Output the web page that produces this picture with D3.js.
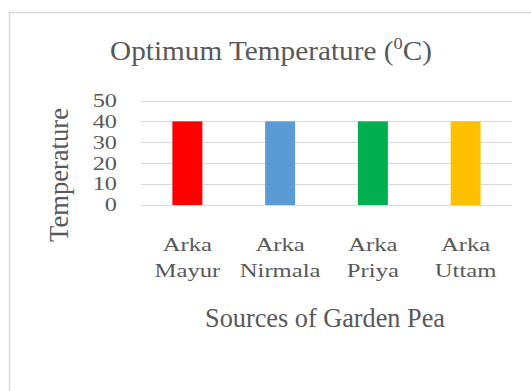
<!DOCTYPE html>
<html>
<head>
<meta charset="utf-8">
<script src="https://cdn.jsdelivr.net/npm/d3@7"></script>
<style>
  body { margin: 0; background: #fff; }
</style>
</head>
<body>
<div id="chart"></div>
<script>
// Data
var categories = [["Arka", "Mayur"], ["Arka", "Nirmala"], ["Arka", "Priya"], ["Arka", "Uttam"]];
var values = [40, 40, 40, 40];
var barColors = ["#ff0000", "#5b9bd5", "#00b050", "#ffc000"];
var yTicks = [0, 10, 20, 30, 40, 50];

var attrs = {
  svgWidth: 531,
  svgHeight: 391,
  font: '"Liberation Serif"',
  textFill: '#595959',
  gridColor: '#d9d9d9'
};

var svg = d3.select('#chart').append('svg')
  .attr('width', attrs.svgWidth)
  .attr('height', attrs.svgHeight);

// stretch a text horizontally (in its own frame) to a target length
function fitText(text, target) {
  var w = text.node().getBBox().width;
  text.attr('transform', text.attr('transform') + ' scale(' + (target / w) + ',1)');
}

// chart border (runs off the right/bottom edge)
svg.append('rect')
  .attr('x', 9.5).attr('y', 12.5)
  .attr('width', 540).attr('height', 400)
  .attr('fill', '#fff')
  .attr('stroke', attrs.gridColor)
  .attr('stroke-width', 1.5);

var x = d3.scaleBand()
  .domain(d3.range(categories.length))
  .range([141, 512])
  .paddingInner(0.677)
  .paddingOuter(0.3385);

var y = d3.scaleLinear().domain([0, 50]).range([205, 100.5]);

// gridlines
svg.append('g').selectAll('line')
  .data(yTicks)
  .enter().append('line')
  .attr('x1', 141).attr('x2', 512)
  .attr('y1', d => Math.round(y(d)) + 0.5)
  .attr('y2', d => Math.round(y(d)) + 0.5)
  .attr('stroke', attrs.gridColor)
  .attr('stroke-width', 1);

// bars
svg.append('g').selectAll('rect')
  .data(values)
  .enter().append('rect')
  .attr('x', (d, i) => x(i))
  .attr('y', d => y(d))
  .attr('width', x.bandwidth())
  .attr('height', d => y(0) - y(d))
  .attr('fill', (d, i) => barColors[i]);

// y tick labels
svg.append('g').selectAll('text')
  .data(yTicks)
  .enter().append('text')
  .attr('transform', d => 'translate(117,' + y(d) + ') scale(1.35,1)')
  .attr('dy', '0.35em')
  .attr('text-anchor', 'end')
  .style('font-family', attrs.font)
  .style('font-size', '18px')
  .attr('fill', attrs.textFill)
  .text(d => d);

// category labels
var cat = svg.append('g').selectAll('g')
  .data(categories)
  .enter().append('g')
  .attr('transform', (d, i) => 'translate(' + (x(i) + x.bandwidth() / 2) + ',0)');
cat.selectAll('text')
  .data(d => d)
  .enter().append('text')
  .attr('transform', (d, j) => 'translate(0,' + (251 + j * 26) + ') scale(1.3,1)')
  .attr('text-anchor', 'middle')
  .style('font-family', attrs.font)
  .style('font-size', '19px')
  .attr('fill', attrs.textFill)
  .text(d => d);

// title
var title = svg.append('text')
  .attr('transform', 'translate(271,60)')
  .attr('text-anchor', 'middle')
  .style('font-family', attrs.font)
  .style('font-size', '27px')
  .attr('fill', attrs.textFill)
  .text('Optimum Temperature (');
title.append('tspan').style('font-size', '17px').attr('dy', -11).text('0');
title.append('tspan').attr('dy', 11).text('C)');
fitText(title, 322);

// axis titles
var yTitle = svg.append('text')
  .attr('transform', 'translate(68,175) rotate(-90)')
  .attr('text-anchor', 'middle')
  .style('font-family', attrs.font)
  .style('font-size', '27px')
  .attr('fill', attrs.textFill)
  .text('Temperature');
fitText(yTitle, 134);

var xTitle = svg.append('text')
  .attr('transform', 'translate(325,327)')
  .attr('text-anchor', 'middle')
  .style('font-family', attrs.font)
  .style('font-size', '27px')
  .attr('fill', attrs.textFill)
  .text('Sources of Garden Pea');
fitText(xTitle, 240);
</script>
</body>
</html>
